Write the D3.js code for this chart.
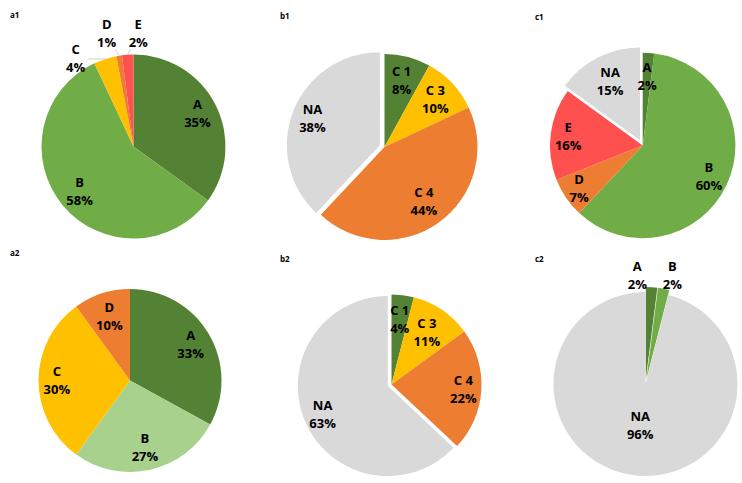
<!DOCTYPE html>
<html><head><meta charset="utf-8">
<script src="https://cdn.jsdelivr.net/npm/d3@7"></script>
<style>
html,body{margin:0;padding:0;background:#fff;}
svg{display:block;}
text{font-family:"Open Sans","DejaVu Sans",sans-serif;font-weight:700;fill:#000;}
</style></head>
<body>
<svg id="chart" width="742" height="483"></svg>
<script>
// ---- data ----
const panelTitles = ["a1","b1","c1","a2","b2","c2"];
const a1Labels = ["A","B","C","D","E"];
const a1Values = [35,58,4,1,2];
const b1Labels = ["C 1","C 3","C 4","NA"];
const b1Values = [8,10,44,38];
const c1Labels = ["A","B","D","E","NA"];
const c1Values = [2,60,7,16,15];
const a2Labels = ["A","B","C","D"];
const a2Values = [33,27,30,10];
const b2Labels = ["C 1","C 3","C 4","NA"];
const b2Values = [4,11,22,63];
const c2Labels = ["A","B","NA"];
const c2Values = [2,2,96];

// ---- styles / layout ----
const DG="#548235", G="#70AD47", LG="#A9D18E", Y="#FFC000", O="#ED7D31", R="#FF5050", GR="#D9D9D9";
const panels = [
  {title:"a1", tx:10, ty:18, labels:a1Labels, values:a1Values, cx:133.5, cy:146.5, r:92,
   colors:[DG,G,Y,O,R], explode:[0,0,0,0,0], k:[0.78,0.76,null,null,null],
   outside:[null,null,[326.5,105],[346.7,116.6],[2.4,113.6]], leader:true},
  {title:"b1", tx:280, ty:19, labels:b1Labels, values:b1Values, cx:384.5, cy:147, r:93,
   colors:[DG,Y,O,GR], explode:[0,0,0,5], k:[0.74,0.75,0.72,0.78], outside:[]},
  {title:"c1", tx:535, ty:20, labels:c1Labels, values:c1Values, cx:642.7, cy:145.5, r:92.7,
   colors:[DG,G,O,R,GR], explode:[0,0,0,0,6], k:[0.75,0.79,0.83,0.81,0.71], outside:[]},
  {title:"a2", tx:10, ty:256, labels:a2Labels, values:a2Values, cx:130, cy:380.5, r:91.5,
   colors:[DG,LG,Y,O], explode:[0,0,0,0], k:[0.77,0.75,0.80,0.73], outside:[]},
  {title:"b2", tx:280, ty:262, labels:b2Labels, values:b2Values, cx:391.5, cy:384.5, r:90,
   colors:[DG,Y,O,GR], explode:[0,0,0,4], k:[0.73,0.70,0.80,0.79], outside:[]},
  {title:"c2", tx:535, ty:262, labels:c2Labels, values:c2Values, cx:645.5, cy:384, r:92,
   colors:[DG,G,GR], explode:[5,5,0], k:[null,null,0.46],
   outside:[[355.7,108.8],[13.9,111.8],null], leader:false}
];

const svg = d3.select("#chart");
const pie = d3.pie().sort(null).value(d=>d.v).startAngle(0).endAngle(2*Math.PI);

panels.forEach(p=>{
  svg.append("text").attr("x",p.tx).attr("y",p.ty).attr("font-size",8).text(p.title);
  const data = p.labels.map((l,i)=>({l, v:p.values[i], i}));
  const arcs = pie(data);
  const arc = d3.arc().innerRadius(0).outerRadius(p.r);
  const g = svg.append("g").attr("transform",`translate(${p.cx},${p.cy})`);
  arcs.forEach((a,i)=>{
    const mid = (a.startAngle+a.endAngle)/2;
    const ex = p.explode[i]||0;
    const dx = ex*Math.sin(mid), dy = -ex*Math.cos(mid);
    g.append("path").attr("d",arc(a)).attr("fill",p.colors[i])
      .attr("transform",`translate(${dx},${dy})`);
  });
  arcs.forEach((a,i)=>{
    const mid = (a.startAngle+a.endAngle)/2;
    const ex = p.explode[i]||0;
    let lx, ly;
    const out = p.outside && p.outside[i];
    if(out){
      const ang = out[0]*Math.PI/180;
      lx = out[1]*Math.sin(ang); ly = -out[1]*Math.cos(ang);
    } else {
      const kr = p.k[i]*p.r;
      const c = d3.arc().innerRadius(kr).outerRadius(kr).centroid(a);
      lx = c[0] + ex*Math.sin(mid); ly = c[1] - ex*Math.cos(mid);
    }
    if(out && p.leader){
      const ex2 = p.r*Math.sin(mid), ey2 = -p.r*Math.cos(mid);
      const vx = ex2-lx, vy = ey2-ly;
      const t = Math.min(13/Math.abs(vx||1e-6), 16/Math.abs(vy||1e-6));
      g.append("line").attr("x1",lx+vx*t).attr("y1",ly+vy*t)
        .attr("x2",ex2).attr("y2",ey2)
        .attr("stroke","#bfbfbf").attr("stroke-width",0.75);
    }
    const t = g.append("text").attr("text-anchor","middle").attr("font-size",13);
    t.append("tspan").attr("x",lx).attr("y",ly-4.5).text(a.data.l);
    t.append("tspan").attr("x",lx).attr("y",ly+13.5).text(a.data.v+"%");
  });
});
</script>
</body></html>
